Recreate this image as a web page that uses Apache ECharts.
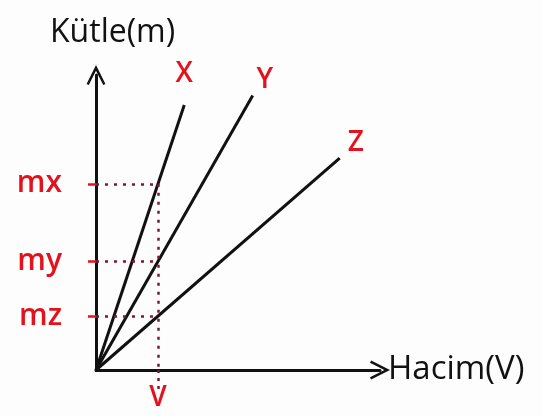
<!DOCTYPE html>
<html>
<head>
<meta charset="utf-8">
<script src="https://cdn.jsdelivr.net/npm/echarts@6/dist/echarts.min.js"></script>
<style>
  html, body { margin: 0; padding: 0; background: #fdfdfd; }
  #chart { width: 542px; height: 416px; }
</style>
</head>
<body>
<div id="chart"></div>
<script>
// Mass–volume lines for three substances X, Y, Z
const lineNames = ['X', 'Y', 'Z'];
const lineX = [[0, 0], [1.38, 4.14]];
const lineY = [[0, 0], [2.45, 4.29]];
const lineZ = [[0, 0], [3.81, 3.31]];

// Reference volume V and the masses read at V
const volumeValue = 0.97;
const volumeLabel = 'V';
const massValues = [2.91, 1.70, 0.84];
const massLabels = ['mx', 'my', 'mz'];

const RED = '#e3121c';
const DOT = '#7d1632';
const INK = '#111111';
const FONT = '"Open Sans", "Noto Sans", sans-serif';

const chevron = 'path://M0,12 L6,0 L12,12 L10.6,12.7 L6,3.6 L1.4,12.7 Z';

const lines = [lineX, lineY, lineZ];
const labelOffsets = [[0, -12], [12, 4], [16, 4]];

const series = lines.map((pts, i) => ({
  type: 'line',
  name: lineNames[i],
  data: pts.map((p, j) => j === pts.length - 1 ? {
    value: p,
    label: {
      show: true,
      formatter: lineNames[i],
      position: 'top',
      offset: labelOffsets[i],
      color: RED,
      fontSize: 28,
      fontWeight: 600,
      fontFamily: FONT
    }
  } : { value: p }),
  symbol: 'circle',
  symbolSize: 0,
  showSymbol: true,
  lineStyle: { color: INK, width: 3 },
  silent: true
}));

// dotted guides from the axes to the intersections at V
const guides = massValues.map(m => [
  { coord: [0, m] },
  { coord: [volumeValue, m] }
]);
guides.push([{ coord: [volumeValue, massValues[0]] }, { coord: [volumeValue, 0] }]);

series.push({
  type: 'line',
  data: [],
  markLine: {
    silent: true,
    symbol: ['none', 'none'],
    label: { show: false },
    lineStyle: { color: DOT, type: [3, 6], width: 2.5 },
    data: guides
  }
});

const chart = echarts.init(document.getElementById('chart'));
chart.setOption({
  backgroundColor: '#fdfdfd',
  animation: false,
  grid: { left: 96, right: 162, top: 75, bottom: 46 },
  xAxis: {
    type: 'value',
    min: 0,
    max: 4.44,
    splitLine: { show: false },
    name: 'Hacim(V)',
    nameLocation: 'end',
    nameGap: 8,
    nameTextStyle: { color: INK, fontSize: 33, fontFamily: FONT, verticalAlign: 'middle' },
    axisLine: {
      lineStyle: { color: INK, width: 3 },
      symbol: ['none', chevron],
      symbolSize: [22, 20]
    },
    axisTick: {
      show: true,
      customValues: [volumeValue],
      length: 24,
      lineStyle: { color: DOT, width: 2.5, type: [3, 5] }
    },
    axisLabel: {
      customValues: [volumeValue],
      formatter: () => volumeLabel,
      color: RED,
      fontSize: 28,
      fontWeight: 600,
      fontFamily: FONT,
      margin: 14
    }
  },
  yAxis: {
    type: 'value',
    min: 0,
    max: 4.61,
    splitLine: { show: false },
    name: 'Kütle(m)',
    nameLocation: 'end',
    nameGap: 26,
    nameTextStyle: { color: INK, fontSize: 32, fontFamily: FONT, align: 'left', padding: [0, 0, 0, -46] },
    axisLine: {
      show: true,
      lineStyle: { color: INK, width: 3 },
      symbol: ['none', chevron],
      symbolSize: [22, 20]
    },
    axisTick: {
      show: true,
      customValues: massValues,
      length: 8,
      lineStyle: { color: RED, width: 2.5 }
    },
    axisLabel: {
      customValues: massValues,
      formatter: v => massLabels[massValues.indexOf(v)],
      color: RED,
      fontSize: 30,
      fontWeight: 600,
      fontFamily: FONT,
      margin: 34,
      padding: [12, 0, 0, 0]
    }
  },
  series: series
});
</script>
</body>
</html>
